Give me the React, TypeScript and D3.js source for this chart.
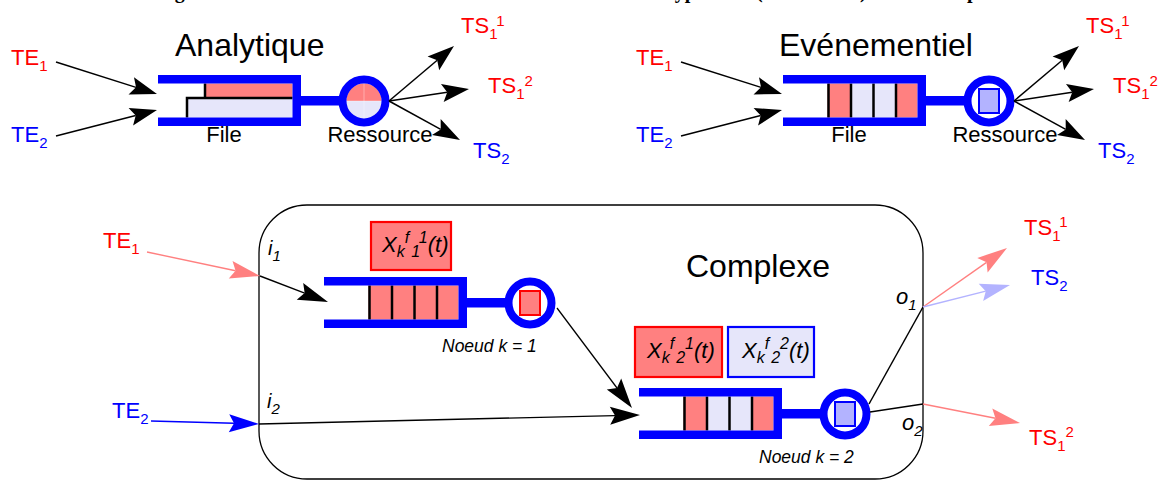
import React from "react";
import * as d3 from "d3";

const RED = "#ff0000";
const BLUE = "#0000ff";
const PINK = "#ff8080";
const LAV = "#e6e6fa";
const LBLUE = "#b3b3ff";
const FONT = "'Liberation Sans', Arial, Helvetica, sans-serif";

// Cropped caption at the very top (only descenders visible)
const titleFragments = [
  { x: 157, text: "Figure 1 : Les trois modèles" },
  { x: 668, text: "types" },
  { x: 756, text: "(" },
  { x: 860, text: ")" },
  { x: 967, text: "présentés" },
];

// Top panels
const topPanels = [
  { name: "Analytique", titleX: 175, dx: 0, kind: "analytique", cells: [] as string[] },
  { name: "Evénementiel", titleX: 779, dx: 625, kind: "evenementiel", cells: ["r", "l", "l", "r"] },
];
const topInputs = [
  { label: "TE", sub: "1", sup: "", color: RED, lx: 11, ly: 65, from: [56, 62], to: [157, 94] },
  { label: "TE", sub: "2", sup: "", color: BLUE, lx: 11, ly: 142, from: [56, 136], to: [157, 110] },
];
const topOrigin = [389, 101];
const topOutputs = [
  { label: "TS", sub: "1", sup: "1", color: RED, lx: 461, ly: 33, to: [454, 46] },
  { label: "TS", sub: "1", sup: "2", color: RED, lx: 488, ly: 93, to: [469, 89] },
  { label: "TS", sub: "2", sup: "", color: BLUE, lx: 473, ly: 158, to: [460, 140] },
];
const topFileY = 75;
const topFileX = 158;

// Complex panel
const frame = { x: 259, y: 205, w: 664, h: 274, r: 48 };
const nodes = [
  { k: "1", x: 324, y: 277, cells: ["r", "r", "r", "r"], job: "r", noeudX: 442, noeudY: 352 },
  { k: "2", x: 639, y: 388, cells: ["r", "l", "l", "r"], job: "l", noeudX: 759, noeudY: 463 },
];
const stateBoxes = [
  { x: 371, y: 222, w: 80, h: 48, fill: PINK, stroke: RED, tx: 382, ty: 252, sub: "1", sup: "1" },
  { x: 635, y: 327, w: 87, h: 50, fill: PINK, stroke: RED, tx: 647, ty: 358, sub: "2", sup: "1" },
  { x: 728, y: 327, w: 86, h: 50, fill: LAV, stroke: BLUE, tx: 742, ty: 358, sub: "2", sup: "2" },
];
const complexInputs = [
  { label: "TE", sub: "1", color: RED, lx: 103, ly: 248, from: [147, 252], port: [260, 276], to: [328, 302], lineColor: PINK, port_label: "i", pl: "1", plx: 268, ply: 255 },
  { label: "TE", sub: "2", color: BLUE, lx: 112, ly: 418, from: [151, 421], port: [259, 424], to: [640, 415], lineColor: BLUE, port_label: "i", pl: "2", plx: 267, ply: 408 },
];
const nodeLink = { from: [557, 308], to: [632, 408] };
const outPorts = [
  { name: "o", sub: "1", lx: 896, ly: 304, pt: [923, 307], from: [869, 404] },
  { name: "o", sub: "2", lx: 902, ly: 430, pt: [923, 404], from: [870, 412] },
];
const complexOutputs = [
  { port: 0, to: [1007, 248], lineColor: PINK, label: "TS", sub: "1", sup: "1", color: RED, lx: 1024, ly: 235 },
  { port: 0, to: [1010, 285], lineColor: LBLUE, label: "TS", sub: "2", sup: "", color: BLUE, lx: 1031, ly: 285 },
  { port: 1, to: [1020, 423], lineColor: PINK, label: "TS", sub: "1", sup: "2", color: RED, lx: 1029, ly: 445 },
];

// geometry constants of a queue node
const FW = 143, FH = 51, FT = 8.5;

function arrow(x1: number, y1: number, x2: number, y2: number, len: number, hw: number, notch: number) {
  const a = Math.atan2(y2 - y1, x2 - x1);
  const c = Math.cos(a), s = Math.sin(a);
  const bx = x2 - len * c, by = y2 - len * s;
  const nx = x2 - (len - notch) * c, ny = y2 - (len - notch) * s;
  const head = d3.path();
  head.moveTo(x2, y2);
  head.lineTo(bx - hw * s, by + hw * c);
  head.lineTo(nx, ny);
  head.lineTo(bx + hw * s, by - hw * c);
  head.closePath();
  const line = d3.path();
  line.moveTo(x1, y1);
  line.lineTo(nx, ny);
  return { head: head.toString(), line: line.toString() };
}

function Arrow({ from, to, color, len = 27, hw = 9, notch = 5, sw = 1.5 }: any) {
  const a = arrow(from[0], from[1], to[0], to[1], len, hw, notch);
  return (
    <g>
      <path d={a.line} stroke={color} strokeWidth={sw} fill="none" />
      <path d={a.head} fill={color} stroke="none" />
    </g>
  );
}

function Lbl({ x, y, text, sub, sup, color, size = 22, small = 15, italic = false, supDy = -13 }: any) {
  return (
    <text x={x} y={y} fill={color} fontFamily={FONT} fontSize={size} fontStyle={italic ? "italic" : "normal"}>
      {text}
      {sub ? <tspan fontSize={small} dy={6}>{sub}</tspan> : null}
      {sup ? <tspan fontSize={small} dy={supDy}>{sup}</tspan> : null}
    </text>
  );
}

function QueueFile({ x, y, cells, kind }: any) {
  const cx0 = x + 44.5, cx1 = x + FW - FT;
  const cw = (cx1 - cx0) / Math.max(cells.length, 1);
  const iy0 = y + FT, iy1 = y + FH - FT;
  return (
    <g>
      {kind === "analytique" ? (
        <g>
          <rect x={x + 46} y={iy0} width={cx1 - x - 46} height={23 - FT} fill={PINK} />
          <rect x={x + 28} y={y + 23} width={cx1 - x - 28} height={iy1 - y - 23} fill={LAV} />
          <path d={`M${x + 47},${iy0} V${y + 23}`} stroke="#000" strokeWidth={2.5} />
          <path d={`M${x + 29},${iy1} V${y + 23} H${cx1}`} stroke="#000" strokeWidth={2.5} fill="none" />
        </g>
      ) : (
        cells.map((c: string, i: number) => (
          <rect key={i} x={cx0 + i * cw} y={iy0} width={cw} height={iy1 - iy0} fill={c === "r" ? PINK : LAV} />
        ))
      )}
      {kind !== "analytique" &&
        cells.map((_: string, i: number) => (
          <line key={"s" + i} x1={cx0 + i * cw + 1} x2={cx0 + i * cw + 1} y1={iy0} y2={iy1} stroke="#000" strokeWidth={2.5} />
        ))}
      <rect x={x} y={y} width={FW} height={FT} fill={BLUE} />
      <rect x={x} y={y + FH - FT} width={FW} height={FT} fill={BLUE} />
      <rect x={x + FW - FT} y={y} width={FT} height={FH} fill={BLUE} />
      <rect x={x + FW - 1} y={y + 21} width={42} height={9.5} fill={BLUE} />
    </g>
  );
}

function Resource({ x, y, job, kind }: any) {
  const cx = x + 206, cy = y + 26, r = 21.5;
  const inner = 17.6;
  return (
    <g>
      {kind === "analytique" ? (
        <g>
          <path d={`M${cx - inner},${cy} A${inner},${inner} 0 0 1 ${cx + inner},${cy} Z`} fill={PINK} />
          <path d={`M${cx - inner},${cy} A${inner},${inner} 0 0 0 ${cx + inner},${cy} Z`} fill={LAV} />
          <line x1={cx} x2={cx} y1={cy - inner} y2={cy + inner} stroke="#fff" strokeOpacity={0.45} strokeWidth={0.8} />
          <line x1={cx - inner} x2={cx + inner} y1={cy} y2={cy} stroke="#fff" strokeOpacity={0.45} strokeWidth={0.8} />
        </g>
      ) : (
        <rect x={cx - 10} y={cy - 12} width={20} height={24} fill={job === "r" ? PINK : LBLUE} stroke={job === "r" ? RED : BLUE} strokeWidth={2} />
      )}
      <circle cx={cx} cy={cy} r={r} fill="none" stroke={BLUE} strokeWidth={8} />
    </g>
  );
}

function XLabel({ x, y, sub, sup }: any) {
  return (
    <text x={x} y={y} fontFamily={FONT} fontStyle="italic" fontSize={22} fill="#000">
      X<tspan fontSize={16} dy={5}>k</tspan><tspan fontSize={16} dx={0} dy={-14}>f</tspan><tspan fontSize={16} dx={2} dy={14}>{sub}</tspan><tspan fontSize={16} dx={0} dy={-14}>{sup}</tspan><tspan fontSize={22} dy={9}>(t)</tspan>
    </text>
  );
}

export default function App() {
  const framePath = (() => {
    const p = d3.path();
    const { x, y, w, h, r } = frame;
    p.moveTo(x + r, y);
    p.lineTo(x + w - r, y);
    p.arcTo(x + w, y, x + w, y + r, r);
    p.lineTo(x + w, y + h - r);
    p.arcTo(x + w, y + h, x + w - r, y + h, r);
    p.lineTo(x + r, y + h);
    p.arcTo(x, y + h, x, y + h - r, r);
    p.lineTo(x, y + r);
    p.arcTo(x, y, x + r, y, r);
    p.closePath();
    return p.toString();
  })();

  return (
    <svg width={1163} height={480} viewBox="0 0 1163 480" style={{ position: "absolute", left: 0, top: 0, background: "#fff" }}>
      <rect x={0} y={0} width={1163} height={480} fill="#fff" />
      {/* cropped caption */}
      <text y={-2} fontFamily="'Liberation Serif', 'Times New Roman', serif" fontWeight="bold" fontSize={20} fill="#000">
        {titleFragments.map((f, i) => (
          <tspan key={i} x={f.x}>{f.text}</tspan>
        ))}
      </text>

      {/* top panels */}
      {topPanels.map((p) => (
        <g key={p.name}>
          <text x={p.titleX} y={56} fontFamily={FONT} fontSize={32} fill="#000">{p.name}</text>
          {topInputs.map((inp, i) => (
            <g key={i}>
              <Lbl x={inp.lx + p.dx} y={inp.ly} text={inp.label} sub={inp.sub} color={inp.color} />
              <Arrow from={[inp.from[0] + p.dx, inp.from[1]]} to={[inp.to[0] + p.dx, inp.to[1]]} color="#000" />
            </g>
          ))}
          <QueueFile x={topFileX + p.dx} y={topFileY} cells={p.cells} kind={p.kind} />
          <Resource x={topFileX + p.dx} y={topFileY} job="l" kind={p.kind} />
          <text x={224 + p.dx} y={142} textAnchor="middle" fontFamily={FONT} fontSize={22} fill="#000">File</text>
          <text x={380 + p.dx} y={142} textAnchor="middle" fontFamily={FONT} fontSize={22} fill="#000">Ressource</text>
          {topOutputs.map((o, i) => (
            <g key={"o" + i}>
              <Arrow from={[topOrigin[0] + p.dx, topOrigin[1]]} to={[o.to[0] + p.dx, o.to[1]]} color="#000" />
              <Lbl x={o.lx + p.dx} y={o.ly} text={o.label} sub={o.sub} sup={o.sup} color={o.color} />
            </g>
          ))}
        </g>
      ))}

      {/* complex panel */}
      <path d={framePath} fill="none" stroke="#000" strokeWidth={1.3} />
      <text x={686} y={277} fontFamily={FONT} fontSize={32} fill="#000">Complexe</text>

      {stateBoxes.map((b, i) => (
        <g key={"b" + i}>
          <rect x={b.x} y={b.y} width={b.w} height={b.h} fill={b.fill} stroke={b.stroke} strokeWidth={2.2} />
          <XLabel x={b.tx} y={b.ty} sub={b.sub} sup={b.sup} />
        </g>
      ))}

      {complexInputs.map((c, i) => (
        <g key={"ci" + i}>
          <Lbl x={c.lx} y={c.ly} text={c.label} sub={c.sub} color={c.color} />
          <Arrow from={c.from} to={c.port} color={c.lineColor} len={30} hw={9} notch={5} sw={1.4} />
          <Arrow from={c.port} to={c.to} color="#000" len={30} hw={9} notch={5} sw={1.4} />
          <Lbl x={c.plx} y={c.ply} text={c.port_label} sub={c.pl} color="#000" italic size={20} small={15} />
        </g>
      ))}

      {nodes.map((n) => (
        <g key={"n" + n.k}>
          <QueueFile x={n.x} y={n.y} cells={n.cells} kind="evenementiel" />
          <Resource x={n.x} y={n.y} job={n.job} kind="evenementiel" />
          <text x={n.noeudX} y={n.noeudY} fontFamily={FONT} fontStyle="italic" fontSize={17.5} fill="#000">{`Noeud k = ${n.k}`}</text>
        </g>
      ))}

      <Arrow from={nodeLink.from} to={nodeLink.to} color="#000" len={30} hw={9} notch={5} sw={1.3} />

      {outPorts.map((o, i) => (
        <g key={"op" + i}>
          <line x1={o.from[0]} y1={o.from[1]} x2={o.pt[0]} y2={o.pt[1]} stroke="#000" strokeWidth={1.5} />
          <Lbl x={o.lx} y={o.ly} text={o.name} sub={o.sub} color="#000" italic size={22} small={15} />
        </g>
      ))}
      {complexOutputs.map((o, i) => (
        <g key={"co" + i}>
          <Arrow from={outPorts[o.port].pt} to={o.to} color={o.lineColor} len={30} hw={9} notch={5} sw={1.4} />
          <Lbl x={o.lx} y={o.ly} text={o.label} sub={o.sub} sup={o.sup} color={o.color} supDy={-14} />
        </g>
      ))}
    </svg>
  );
}
